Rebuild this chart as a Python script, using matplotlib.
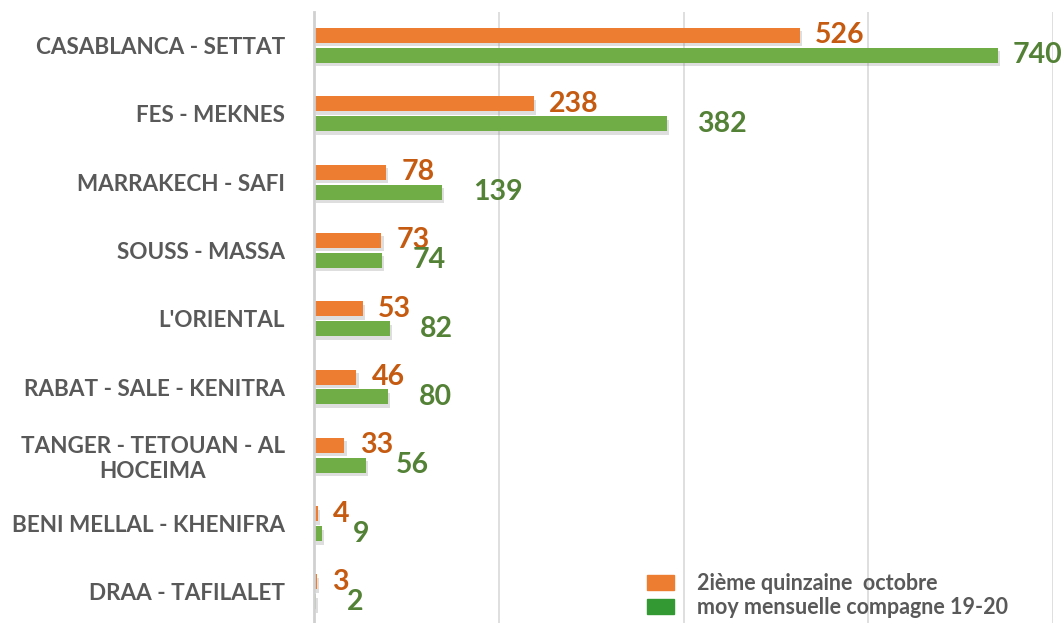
import matplotlib
matplotlib.use("Agg")
import matplotlib.pyplot as plt
import matplotlib.patheffects as pe
from matplotlib.patches import Patch
import numpy as np

categories = ["CASABLANCA - SETTAT", "FES - MEKNES", "MARRAKECH - SAFI", "SOUSS - MASSA",
              "L'ORIENTAL", "RABAT - SALE - KENITRA", "TANGER - TETOUAN - AL\nHOCEIMA",
              "BENI MELLAL - KHENIFRA", "DRAA - TAFILALET"]
quinzaine = [526, 238, 78, 73, 53, 46, 33, 4, 3]
moyenne = [740, 382, 139, 74, 82, 80, 56, 9, 2]
series_names = ["2ième quinzaine  octobre", "moy mensuelle compagne 19-20"]
xticks = [0, 200, 400, 600, 800]

ORANGE = "#ED7D31"
GREEN = "#70AD47"
ORANGE_TXT = "#C55A11"
GREEN_TXT = "#538135"
LEG_GREEN = "#339933"
GREY_TXT = "#595959"

FONT = "Lato"
fig = plt.figure(figsize=(10.61, 6.23), dpi=100)
ax = fig.add_axes([314 / 1061, 0, (1053 - 314) / 1061, 1 - 12 / 623])

y = np.arange(len(categories))
off = 0.146
h = 0.22
shadow = [pe.SimplePatchShadow(offset=(1.5, -2.5), shadow_rgbFace="#7f7f7f", alpha=0.25), pe.Normal()]
b1 = ax.barh(y - off, quinzaine, height=h, color=ORANGE, zorder=3)
b2 = ax.barh(y + off, moyenne, height=h, color=GREEN, zorder=3)
for b in list(b1) + list(b2):
    b.set_path_effects(shadow)

ax.set_xlim(0, 800)
ax.set_ylim(8.455, -0.49)
ax.set_xticks(xticks)
ax.set_xticklabels([])
ax.tick_params(axis="x", length=0)
ax.tick_params(axis="y", length=0, pad=21)
ax.grid(axis="x", color="#d9d9d9", linewidth=1.2, zorder=0)
ax.set_axisbelow(True)
for s in ["top", "right", "bottom"]:
    ax.spines[s].set_visible(False)
ax.spines["left"].set_color("#d0d0d0")
ax.spines["left"].set_linewidth(2)
ax.spines["left"].set_zorder(4)

ax.set_yticks(y)
ax.set_yticklabels(categories, fontsize=16.2, fontweight="bold", color=GREY_TXT, family=FONT)
for t in ax.get_yticklabels():
    t.set_multialignment("center")

vmax = max(moyenne)
for i, v in enumerate(quinzaine):
    ax.annotate(str(v), (v, i - off), xytext=(11, 0), textcoords="offset points",
                va="center", ha="left", fontsize=20.5, fontweight="bold", color=ORANGE_TXT, family=FONT)
for i, v in enumerate(moyenne):
    dx = 11 if v == vmax else 22
    ax.annotate(str(v), (v, i + off), xytext=(dx, 0), textcoords="offset points",
                va="center", ha="left", fontsize=20.5, fontweight="bold", color=GREEN_TXT, family=FONT,
                annotation_clip=False)

handles = [Patch(color=ORANGE), Patch(color=LEG_GREEN)]
leg = fig.legend(handles, series_names, loc="lower left", bbox_to_anchor=(647 / 1061, 5 / 623),
                 frameon=False, prop={"family": FONT, "weight": "bold", "size": 15.5},
                 handlelength=1.25, handleheight=0.7, handletextpad=1.05, labelspacing=0.12,
                 borderaxespad=0, borderpad=0)
for t in leg.get_texts():
    t.set_color(GREY_TXT)

fig.savefig("out.png", dpi=100)
